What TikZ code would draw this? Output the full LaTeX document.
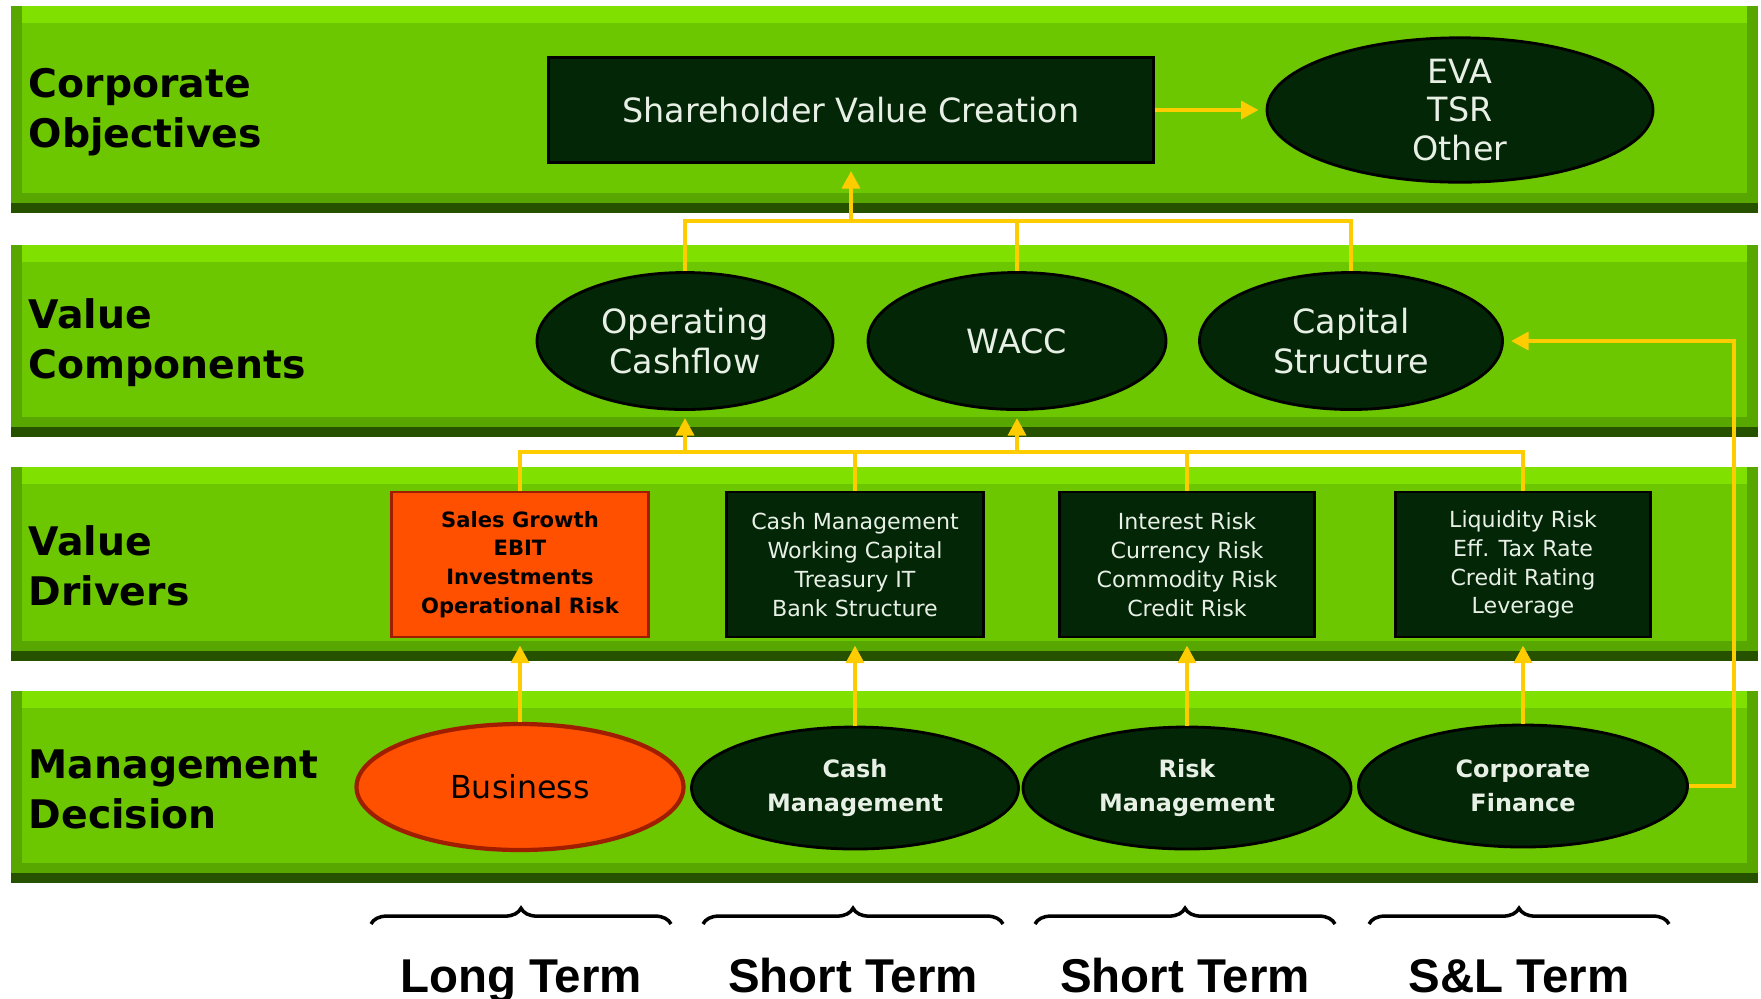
\documentclass[tikz,border=0pt]{standalone}
\usepackage{fontspec}
\setmainfont{DejaVu Sans}
\newfontfamily\termfont{Liberation Sans}
\usetikzlibrary{shapes.geometric, arrows.meta, positioning, decorations.pathreplacing}

\definecolor{bandgreen}{RGB}{108,198,0}
\definecolor{bandlight}{RGB}{128,224,0}
\definecolor{bandshade}{RGB}{88,166,0}
\definecolor{banddark}{RGB}{38,82,0}
\definecolor{nodedark}{RGB}{2,38,6}
\definecolor{nodetext}{RGB}{232,240,230}
\definecolor{drvorange}{RGB}{255,80,0}
\definecolor{drvred}{RGB}{160,30,0}
\definecolor{linkyellow}{RGB}{255,204,0}

\tikzset{
  darkbox/.style={draw=black, line width=0.8pt, fill=nodedark, text=nodetext, align=center, inner sep=0pt},
  darkoval/.style={ellipse, draw=black, line width=0.8pt, fill=nodedark, text=nodetext, align=center, inner sep=0pt},
  link/.style={draw=linkyellow, line width=1.3pt},
  arr/.style={link, -{Triangle[length=5pt,width=5pt]}, shorten >=2pt},
  lanelabel/.style={anchor=west, align=left, inner sep=0pt, font=\fontsize{11.2}{14.2}\selectfont\bfseries},
  termbrace/.style={decorate, decoration={brace, amplitude=4.5pt}, line width=1pt},
  termlabel/.style={anchor=base, inner sep=0pt, font=\termfont\fontsize{13.5}{16}\selectfont\bfseries}
}

\begin{document}
\begin{tikzpicture}
  \useasboundingbox (0,0) rectangle (17.61,-9.98);

  % lanes
  \foreach \t/\b in {0.06/2.13, 2.45/4.37, 4.67/6.61, 6.91/8.83} {
    \fill[bandgreen] (0.11,-\t) rectangle (17.58,-\b);
    \fill[bandlight] (0.11,-\t) rectangle (17.58,{-\t-0.17});
    \fill[bandshade] (0.11,-\t) rectangle (0.22,-\b);
    \fill[bandshade] (17.47,-\t) rectangle (17.58,-\b);
    \fill[bandshade] (0.11,{-\b+0.2}) rectangle (17.58,{-\b+0.1});
    \fill[banddark] (0.11,{-\b+0.1}) rectangle (17.58,-\b);
  }

  % lane titles
  \node[lanelabel] (objectives) at (0.28,-1.12) {Corporate\\Objectives};
  \node[lanelabel] (components) at (0.28,-3.43) {Value\\Components};
  \node[lanelabel] (drivers) at (0.28,-5.66) {Value\\Drivers};
  \node[lanelabel] (decision) at (0.28,-7.89) {Management\\Decision};

  % corporate objectives
  \node[darkbox, minimum width=6.05cm, minimum height=1.05cm, font=\fontsize{9.5}{11}\selectfont] (svc) at (8.51,-1.10) {Shareholder Value Creation};
  \node[darkoval, minimum width=3.86cm, minimum height=1.41cm, font=\fontsize{9.5}{11}\selectfont] (eva) at (14.60,-1.10) {EVA\\TSR\\Other};

  % value components
  \node[darkoval, minimum width=2.96cm, minimum height=1.37cm, font=\fontsize{9.5}{11.4}\selectfont] (opcf) at (6.85,-3.41) {Operating\\Cashflow};
  \node[darkoval, minimum width=2.98cm, minimum height=1.37cm, font=\fontsize{9.5}{11.4}\selectfont] (wacc) at (10.17,-3.41) {WACC};
  \node[darkoval, minimum width=3.03cm, minimum height=1.37cm, font=\fontsize{9.5}{11.4}\selectfont] (capst) at (13.51,-3.41) {Capital\\Structure};

  % value drivers
  \node[draw=drvred, line width=0.8pt, fill=drvorange, align=center, inner sep=0pt, minimum width=2.57cm, minimum height=1.45cm, font=\fontsize{6}{8.2}\selectfont\bfseries] (sales) at (5.20,-5.645) {Sales Growth\\EBIT\\Investments\\Operational Risk};
  \node[darkbox, minimum width=2.57cm, minimum height=1.45cm, font=\fontsize{6.3}{8.2}\selectfont] (cashd) at (8.55,-5.645) {Cash Management\\Working Capital\\Treasury IT\\Bank Structure};
  \node[darkbox, minimum width=2.55cm, minimum height=1.45cm, font=\fontsize{6.3}{8.2}\selectfont] (intr) at (11.87,-5.645) {Interest Risk\\Currency Risk\\Commodity Risk\\Credit Risk};
  \node[darkbox, minimum width=2.55cm, minimum height=1.45cm, font=\fontsize{6.3}{8.2}\selectfont] (liq) at (15.23,-5.645) {Liquidity Risk\\Eff. Tax Rate\\Credit Rating\\Leverage};

  % management decision
  \node[ellipse, draw=drvred, line width=1.2pt, fill=drvorange, inner sep=0pt, minimum width=3.27cm, minimum height=1.26cm, font=\fontsize{9}{11}\selectfont] (busin) at (5.20,-7.87) {Business};
  \node[darkoval, minimum width=3.27cm, minimum height=1.22cm, font=\fontsize{6.8}{9.6}\selectfont\bfseries] (cashm) at (8.55,-7.88) {Cash\\Management};
  \node[darkoval, minimum width=3.28cm, minimum height=1.22cm, font=\fontsize{6.8}{9.6}\selectfont\bfseries] (riskm) at (11.87,-7.88) {Risk\\Management};
  \node[darkoval, minimum width=3.29cm, minimum height=1.22cm, font=\fontsize{6.8}{9.6}\selectfont\bfseries] (corpf) at (15.23,-7.86) {Corporate\\Finance};

  % connectors
  \coordinate (topbus) at (0,-2.21);
  \coordinate (lowbus) at (0,-4.52);
  \coordinate (loop) at (17.34,-3.41);

  \draw[arr] (svc.east) -- (eva.west);
  \draw[link] (opcf.north) |- (capst.north |- topbus) -- (capst.north);
  \draw[link] (wacc.north) -- (wacc.north |- topbus);
  \draw[arr] (svc.south |- topbus) -- (svc.south);

  \draw[link] (sales.north) |- (liq.north |- lowbus) -- (liq.north);
  \draw[link] (cashd.north) -- (cashd.north |- lowbus);
  \draw[link] (intr.north) -- (intr.north |- lowbus);
  \draw[arr] (opcf.south |- lowbus) -- (opcf.south);
  \draw[arr] (wacc.south |- lowbus) -- (wacc.south);

  \draw[arr] (busin.north) -- (sales.south);
  \draw[arr] (cashm.north) -- (cashd.south);
  \draw[arr] (riskm.north) -- (intr.south);
  \draw[arr] (corpf.north) -- (liq.south);
  \draw[arr] (corpf.east) -| (loop) -- (capst.east);

  % horizons
  \foreach \x/\term in {5.21/Long Term, 8.53/Short Term, 11.85/Short Term, 15.19/S\&L Term} {
    \draw[termbrace] ({\x-1.5},-9.24) -- ({\x+1.5},-9.24);
    \node[termlabel] at (\x,-9.92) {\term};
  }
\end{tikzpicture}
\end{document}
